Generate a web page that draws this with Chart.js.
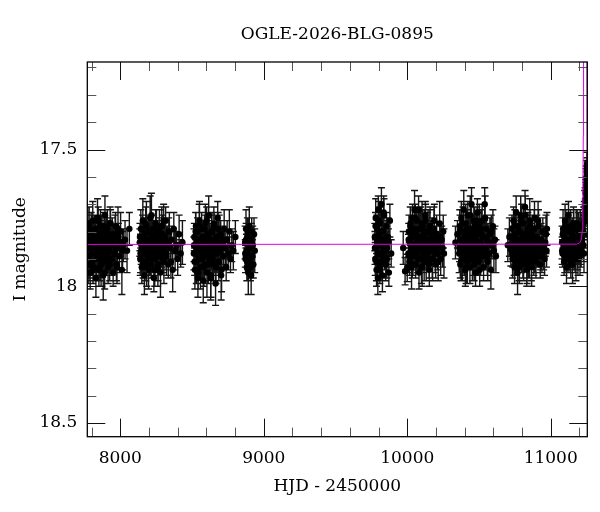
<!DOCTYPE html>
<html>
<head>
<meta charset="utf-8">
<script src="https://cdn.jsdelivr.net/npm/chart.js@4.4.1/dist/chart.umd.min.js"></script>
<style>
    html, body { margin: 0; padding: 0; background: #fff; }
    #wrap { width: 600px; height: 512px; }
</style>
</head>
<body>
<div id="wrap"><canvas id="chart" width="600" height="512"></canvas></div>
<script>
"use strict";

// tick positions
const xMajor = [8000, 9000, 10000, 11000];
const xMinor = [7800, 8200, 8400, 8600, 8800, 9200, 9400, 9600, 9800, 10200, 10400, 10600, 10800, 11200];
const yMajor = [17.5, 18, 18.5];
const yMinor = [17.2, 17.3, 17.4, 17.6, 17.7, 17.8, 17.9, 18.1, 18.2, 18.3, 18.4];

// 2017 season
const hjd17 = [7771, 7774, 7776, 7779, 7783, 7786, 7790, 7793, 7797, 7801,
    7804, 7808, 7812, 7815, 7819, 7822, 7826, 7830, 7833, 7837,
    7841, 7844, 7848, 7851, 7855, 7859, 7862, 7866, 7870, 7873,
    7877, 7881, 7885, 7889, 7893, 7897, 7902, 7906, 7910, 7915,
    7919, 7924, 7929, 7934, 7939, 7944, 7950, 7955, 7961, 7967,
    7973, 7980, 7987, 7994, 8002, 8011, 8021, 8033, 8047, 8063,
    7772, 7778, 7781, 7788, 7795, 7799, 7806, 7810, 7817, 7824,
    7828, 7835, 7839, 7846, 7853, 7857, 7864, 7868, 7875, 7879,
    7883, 7887, 7891, 7899, 7904, 7912, 7917, 7921, 7926, 7932,
    7937, 7942, 7947, 7958, 7964, 7970, 7977, 7984, 7998, 8016];
const mag17 = [17.86, 17.81, 17.92, 17.84, 17.77, 17.89, 17.95, 17.83, 17.80, 17.87,
    17.91, 17.76, 17.85, 17.93, 17.82, 17.88, 17.79, 17.97, 17.84, 17.90,
    17.75, 17.86, 17.83, 17.94, 17.81, 17.87, 17.78, 17.92, 17.85, 17.80,
    17.89, 17.96, 17.82, 17.86, 17.74, 17.91, 17.84, 17.88, 17.79, 17.93,
    17.83, 17.87, 17.77, 17.90, 17.85, 17.81, 17.95, 17.84, 17.88, 17.78,
    17.92, 17.86, 17.82, 17.89, 17.80, 17.94, 17.85, 17.83, 17.87, 17.79,
    17.89, 17.83, 17.78, 17.92, 17.85, 17.80, 17.87, 17.94, 17.82, 17.86,
    17.79, 17.90, 17.84, 17.76, 17.88, 17.93, 17.81, 17.85, 17.91, 17.83,
    17.87, 17.78, 17.95, 17.84, 17.80, 17.89, 17.86, 17.82, 17.92, 17.77,
    17.85, 17.90, 17.83, 17.88, 17.81, 17.86, 17.93, 17.79, 17.84, 17.87];
const err17 = [0.06, 0.05, 0.07, 0.05, 0.06, 0.08, 0.06, 0.05, 0.07, 0.06,
    0.05, 0.07, 0.06, 0.05, 0.08, 0.06, 0.05, 0.07, 0.06, 0.05,
    0.07, 0.06, 0.05, 0.06, 0.07, 0.05, 0.06, 0.08, 0.05, 0.06,
    0.07, 0.09, 0.05, 0.06, 0.07, 0.05, 0.06, 0.05, 0.07, 0.06,
    0.05, 0.08, 0.06, 0.05, 0.07, 0.06, 0.05, 0.06, 0.07, 0.05,
    0.06, 0.08, 0.05, 0.06, 0.07, 0.09, 0.06, 0.07, 0.08, 0.06,
    0.06, 0.05, 0.07, 0.06, 0.05, 0.06, 0.07, 0.05, 0.06, 0.08,
    0.05, 0.06, 0.07, 0.05, 0.06, 0.05, 0.07, 0.06, 0.05, 0.06,
    0.07, 0.05, 0.06, 0.08, 0.05, 0.06, 0.07, 0.05, 0.06, 0.05,
    0.07, 0.06, 0.05, 0.06, 0.07, 0.05, 0.06, 0.08, 0.05, 0.07];

// 2018 season
const hjd18 = [8136, 8139, 8143, 8146, 8150, 8153, 8157, 8161, 8164, 8168,
    8171, 8175, 8179, 8182, 8186, 8190, 8193, 8197, 8201, 8204,
    8208, 8212, 8215, 8219, 8223, 8227, 8230, 8234, 8238, 8242,
    8246, 8250, 8254, 8258, 8262, 8266, 8271, 8275, 8280, 8284,
    8289, 8294, 8299, 8304, 8310, 8316, 8322, 8328, 8335, 8342,
    8349, 8357, 8365, 8373, 8382, 8391, 8400, 8410, 8421, 8433,
    8137, 8141, 8148, 8155, 8159, 8166, 8173, 8177, 8184, 8188,
    8195, 8199, 8206, 8210, 8217, 8221, 8225, 8232, 8236, 8240,
    8244, 8248, 8252, 8256, 8260, 8264, 8268, 8273, 8278, 8282,
    8287, 8292, 8297, 8302, 8307, 8313, 8319, 8325, 8338, 8353];
const mag18 = [17.84, 17.90, 17.79, 17.87, 17.93, 17.82, 17.76, 17.88, 17.85, 17.96,
    17.81, 17.86, 17.91, 17.78, 17.84, 17.89, 17.83, 17.94, 17.80, 17.87,
    17.75, 17.85, 17.92, 17.82, 17.88, 17.79, 17.86, 17.97, 17.83, 17.90,
    17.77, 17.84, 17.89, 17.81, 17.93, 17.86, 17.80, 17.87, 17.95, 17.83,
    17.78, 17.88, 17.85, 17.91, 17.82, 17.76, 17.89, 17.84, 17.92, 17.80,
    17.86, 17.83, 17.94, 17.79, 17.87, 17.85, 17.90, 17.81, 17.88, 17.84,
    17.82, 17.88, 17.85, 17.79, 17.91, 17.84, 17.87, 17.77, 17.93, 17.83,
    17.86, 17.80, 17.89, 17.85, 17.74, 17.90, 17.82, 17.87, 17.84, 17.94,
    17.81, 17.86, 17.78, 17.88, 17.85, 17.92, 17.83, 17.79, 17.89, 17.84,
    17.87, 17.81, 17.90, 17.76, 17.86, 17.83, 17.88, 17.85, 17.80, 17.91];
const err18 = [0.05, 0.06, 0.07, 0.05, 0.06, 0.05, 0.08, 0.06, 0.05, 0.07,
    0.06, 0.05, 0.07, 0.09, 0.05, 0.06, 0.05, 0.07, 0.06, 0.05,
    0.08, 0.06, 0.05, 0.06, 0.07, 0.05, 0.06, 0.05, 0.07, 0.06,
    0.05, 0.08, 0.06, 0.05, 0.07, 0.06, 0.05, 0.06, 0.09, 0.05,
    0.07, 0.06, 0.05, 0.08, 0.06, 0.05, 0.07, 0.06, 0.05, 0.07,
    0.06, 0.05, 0.08, 0.06, 0.07, 0.05, 0.06, 0.07, 0.05, 0.08,
    0.05, 0.07, 0.06, 0.05, 0.06, 0.08, 0.05, 0.06, 0.07, 0.05,
    0.06, 0.05, 0.07, 0.06, 0.08, 0.05, 0.06, 0.07, 0.05, 0.06,
    0.05, 0.07, 0.06, 0.05, 0.08, 0.06, 0.05, 0.07, 0.06, 0.05,
    0.06, 0.07, 0.05, 0.06, 0.05, 0.08, 0.06, 0.07, 0.05, 0.06];

// 2019 season
const hjd19 = [8513, 8516, 8520, 8523, 8527, 8530, 8534, 8538, 8541, 8545,
    8548, 8552, 8556, 8559, 8563, 8567, 8570, 8574, 8578, 8581,
    8585, 8589, 8593, 8596, 8600, 8604, 8608, 8612, 8616, 8620,
    8624, 8628, 8632, 8637, 8641, 8645, 8650, 8654, 8659, 8664,
    8669, 8674, 8679, 8684, 8689, 8695, 8700, 8706, 8712, 8718,
    8724, 8731, 8738, 8745, 8752, 8760, 8768, 8777, 8788, 8802,
    8514, 8518, 8525, 8532, 8536, 8543, 8550, 8554, 8561, 8565,
    8572, 8576, 8583, 8587, 8591, 8598, 8602, 8606, 8610, 8614,
    8618, 8622, 8626, 8630, 8635, 8639, 8643, 8648, 8652, 8657,
    8662, 8667, 8672, 8677, 8682, 8687, 8692, 8698, 8703, 8715];
const mag19 = [17.88, 17.82, 17.94, 17.85, 17.78, 17.91, 17.86, 17.80, 17.97, 17.84,
    17.89, 17.76, 17.87, 17.93, 17.83, 17.79, 17.90, 17.85, 17.98, 17.82,
    17.86, 17.92, 17.77, 17.88, 17.84, 17.95, 17.81, 17.87, 17.74, 17.90,
    17.85, 17.83, 17.96, 17.80, 17.89, 17.86, 17.92, 17.78, 17.84, 17.99,
    17.82, 17.88, 17.75, 17.91, 17.85, 17.87, 17.81, 17.94, 17.84, 17.89,
    17.79, 17.86, 17.93, 17.83, 17.88, 17.80, 17.90, 17.85, 17.87, 17.82,
    17.85, 17.91, 17.80, 17.87, 17.83, 17.95, 17.78, 17.88, 17.84, 17.90,
    17.82, 17.86, 17.93, 17.79, 17.87, 17.84, 17.76, 17.89, 17.85, 17.92,
    17.81, 17.88, 17.83, 17.97, 17.86, 17.80, 17.90, 17.84, 17.77, 17.88,
    17.85, 17.93, 17.82, 17.87, 17.79, 17.91, 17.84, 17.86, 17.96, 17.83];
const err19 = [0.06, 0.05, 0.07, 0.06, 0.05, 0.08, 0.06, 0.05, 0.07, 0.06,
    0.05, 0.07, 0.06, 0.08, 0.05, 0.06, 0.07, 0.05, 0.08, 0.06,
    0.05, 0.06, 0.07, 0.05, 0.06, 0.09, 0.05, 0.06, 0.07, 0.05,
    0.06, 0.05, 0.08, 0.06, 0.05, 0.07, 0.06, 0.05, 0.06, 0.08,
    0.05, 0.07, 0.06, 0.05, 0.11, 0.06, 0.05, 0.08, 0.06, 0.05,
    0.07, 0.06, 0.05, 0.07, 0.06, 0.08, 0.05, 0.06, 0.07, 0.06,
    0.06, 0.05, 0.07, 0.06, 0.05, 0.06, 0.08, 0.05, 0.06, 0.07,
    0.05, 0.06, 0.07, 0.05, 0.06, 0.08, 0.05, 0.06, 0.05, 0.07,
    0.06, 0.05, 0.06, 0.08, 0.05, 0.07, 0.06, 0.05, 0.06, 0.07,
    0.05, 0.06, 0.08, 0.05, 0.06, 0.07, 0.05, 0.06, 0.09, 0.05];

// 2020 season (short)
const hjd20 = [8870, 8873, 8876, 8879, 8882, 8886, 8889, 8892, 8895, 8899,
    8902, 8905, 8909, 8912, 8916, 8919, 8923, 8927, 8932, 8937,
    8871, 8877, 8884, 8891, 8897, 8907, 8914, 8921];
const mag20 = [17.84, 17.90, 17.79, 17.87, 17.93, 17.82, 17.88, 17.95, 17.85, 17.78,
    17.91, 17.86, 17.83, 17.96, 17.80, 17.89, 17.85, 17.92, 17.81, 17.87,
    17.88, 17.83, 17.91, 17.80, 17.86, 17.93, 17.84, 17.89];
const err20 = [0.06, 0.05, 0.07, 0.06, 0.05, 0.07, 0.06, 0.08, 0.05, 0.07,
    0.06, 0.05, 0.06, 0.07, 0.05, 0.06, 0.07, 0.05, 0.06, 0.08,
    0.05, 0.06, 0.07, 0.05, 0.06, 0.05, 0.07, 0.06];

// 2022 season
const hjd22 = [9774, 9777, 9780, 9783, 9786, 9789, 9792, 9795, 9798, 9801,
    9804, 9807, 9810, 9814, 9817, 9820, 9824, 9827, 9831, 9834,
    9838, 9842, 9846, 9850, 9855, 9860, 9866, 9872, 9879, 9888,
    9775, 9779, 9785, 9791, 9797, 9803, 9809, 9816, 9822, 9829,
    9836, 9844, 9852, 9858, 9869];
const mag22 = [17.82, 17.90, 17.75, 17.86, 17.94, 17.79, 17.84, 17.97, 17.72, 17.88,
    17.81, 17.93, 17.77, 17.85, 17.91, 17.70, 17.83, 17.96, 17.80, 17.87,
    17.74, 17.89, 17.84, 17.92, 17.78, 17.86, 17.82, 17.95, 17.76, 17.88,
    17.86, 17.78, 17.91, 17.83, 17.88, 17.76, 17.94, 17.85, 17.80, 17.89,
    17.73, 17.87, 17.82, 17.90, 17.84];
const err22 = [0.05, 0.06, 0.07, 0.05, 0.06, 0.05, 0.07, 0.06, 0.05, 0.06,
    0.07, 0.05, 0.06, 0.05, 0.07, 0.06, 0.05, 0.06, 0.07, 0.05,
    0.06, 0.05, 0.07, 0.06, 0.05, 0.06, 0.07, 0.05, 0.06, 0.05,
    0.06, 0.05, 0.07, 0.05, 0.06, 0.07, 0.05, 0.06, 0.05, 0.07,
    0.06, 0.05, 0.06, 0.07, 0.05];

// 2023 season
const hjd23 = [9972, 9985, 10000, 10008, 10012, 10016, 10019, 10023, 10026, 10030,
    10033, 10037, 10040, 10044, 10047, 10051, 10054, 10058, 10061, 10065,
    10068, 10072, 10075, 10079, 10082, 10086, 10090, 10093, 10097, 10101,
    10104, 10108, 10112, 10116, 10120, 10124, 10128, 10132, 10136, 10140,
    10145, 10149, 10154, 10159, 10164, 10169, 10174, 10180, 10186, 10192,
    10198, 10205, 10212, 10219, 10226, 10233, 10240, 10246, 10251, 10256,
    10010, 10014, 10021, 10028, 10035, 10042, 10049, 10056, 10063, 10070,
    10077, 10084, 10088, 10095, 10099, 10103, 10106, 10110, 10114, 10118,
    10122, 10126, 10130, 10134, 10138, 10142, 10147, 10152, 10157, 10162,
    10167, 10172, 10177, 10183, 10189, 10195, 10202, 10209, 10216, 10230];
const mag23 = [17.86, 17.945, 17.933, 17.88, 17.80, 17.91, 17.84, 17.77, 17.87, 17.93,
    17.82, 17.75, 17.89, 17.85, 17.79, 17.72, 17.86, 17.92, 17.81, 17.84,
    17.76, 17.88, 17.83, 17.72, 17.95, 17.85, 17.90, 17.79, 17.87, 17.82,
    17.93, 17.78, 17.84, 17.89, 17.81, 17.86, 17.76, 17.91, 17.83, 17.88,
    17.80, 17.85, 17.94, 17.78, 17.87, 17.82, 17.90, 17.84, 17.79, 17.86,
    17.92, 17.81, 17.88, 17.85, 17.77, 17.90, 17.83, 17.86, 17.80, 17.88,
    17.83, 17.89, 17.78, 17.86, 17.92, 17.81, 17.85, 17.75, 17.88, 17.84,
    17.90, 17.79, 17.86, 17.82, 17.93, 17.77, 17.87, 17.84, 17.80, 17.91,
    17.85, 17.74, 17.88, 17.83, 17.89, 17.80, 17.86, 17.92, 17.78, 17.84,
    17.87, 17.81, 17.90, 17.85, 17.76, 17.88, 17.83, 17.86, 17.91, 17.82];
const err23 = [0.06, 0.05, 0.05, 0.07, 0.06, 0.05, 0.07, 0.06, 0.05, 0.08,
    0.06, 0.05, 0.07, 0.06, 0.05, 0.07, 0.06, 0.05, 0.08, 0.06,
    0.05, 0.07, 0.06, 0.05, 0.06, 0.07, 0.05, 0.08, 0.06, 0.05,
    0.07, 0.06, 0.05, 0.06, 0.09, 0.05, 0.06, 0.07, 0.05, 0.06,
    0.08, 0.05, 0.06, 0.07, 0.05, 0.06, 0.07, 0.05, 0.08, 0.06,
    0.05, 0.07, 0.06, 0.05, 0.08, 0.06, 0.05, 0.07, 0.06, 0.09,
    0.06, 0.05, 0.07, 0.06, 0.05, 0.06, 0.08, 0.05, 0.06, 0.07,
    0.05, 0.06, 0.07, 0.05, 0.06, 0.08, 0.05, 0.06, 0.05, 0.07,
    0.06, 0.05, 0.06, 0.08, 0.05, 0.07, 0.06, 0.05, 0.06, 0.07,
    0.05, 0.06, 0.08, 0.05, 0.06, 0.07, 0.05, 0.06, 0.07, 0.05];

// 2024 season
const hjd24 = [10336, 10350, 10362, 10366, 10370, 10373, 10377, 10380, 10384, 10387,
    10391, 10394, 10398, 10401, 10405, 10408, 10412, 10415, 10419, 10422,
    10426, 10430, 10433, 10437, 10441, 10444, 10448, 10452, 10456, 10460,
    10464, 10468, 10472, 10476, 10480, 10484, 10489, 10493, 10498, 10502,
    10507, 10512, 10517, 10522, 10527, 10532, 10536, 10540, 10546, 10552,
    10558, 10564, 10570, 10576, 10583, 10590, 10597, 10604, 10611, 10618,
    10364, 10368, 10375, 10382, 10389, 10396, 10403, 10410, 10417, 10424,
    10428, 10435, 10439, 10446, 10450, 10454, 10458, 10462, 10466, 10470,
    10474, 10478, 10482, 10486, 10491, 10495, 10500, 10505, 10510, 10514,
    10519, 10524, 10529, 10534, 10543, 10549, 10555, 10561, 10573, 10586];
const mag24 = [17.84, 17.81, 17.88, 17.78, 17.92, 17.83, 17.75, 17.87, 17.90, 17.80,
    17.85, 17.72, 17.89, 17.82, 17.94, 17.77, 17.86, 17.83, 17.91, 17.74,
    17.88, 17.81, 17.85, 17.93, 17.79, 17.84, 17.70, 17.87, 17.82, 17.90,
    17.76, 17.86, 17.83, 17.95, 17.80, 17.88, 17.73, 17.85, 17.91, 17.78,
    17.84, 17.89, 17.81, 17.76, 17.87, 17.93, 17.82, 17.70, 17.86, 17.79,
    17.90, 17.84, 17.88, 17.81, 17.94, 17.85, 17.78, 17.87, 17.83, 17.89,
    17.86, 17.80, 17.91, 17.83, 17.77, 17.88, 17.85, 17.93, 17.79, 17.86,
    17.82, 17.89, 17.74, 17.87, 17.84, 17.90, 17.81, 17.85, 17.92, 17.78,
    17.88, 17.83, 17.86, 17.76, 17.90, 17.84, 17.81, 17.94, 17.87, 17.79,
    17.85, 17.89, 17.82, 17.86, 17.75, 17.88, 17.83, 17.91, 17.84, 17.80];
const err24 = [0.06, 0.05, 0.07, 0.06, 0.05, 0.07, 0.06, 0.05, 0.08, 0.06,
    0.05, 0.07, 0.06, 0.05, 0.06, 0.07, 0.05, 0.06, 0.08, 0.05,
    0.06, 0.07, 0.05, 0.06, 0.05, 0.07, 0.06, 0.05, 0.08, 0.06,
    0.05, 0.07, 0.06, 0.05, 0.06, 0.07, 0.05, 0.06, 0.05, 0.08,
    0.06, 0.07, 0.05, 0.06, 0.07, 0.05, 0.06, 0.06, 0.08, 0.05,
    0.06, 0.07, 0.05, 0.06, 0.07, 0.05, 0.06, 0.08, 0.05, 0.06,
    0.05, 0.06, 0.07, 0.05, 0.06, 0.08, 0.05, 0.06, 0.07, 0.05,
    0.06, 0.05, 0.07, 0.06, 0.05, 0.08, 0.06, 0.05, 0.06, 0.07,
    0.05, 0.06, 0.07, 0.05, 0.06, 0.05, 0.08, 0.06, 0.05, 0.07,
    0.06, 0.05, 0.06, 0.07, 0.08, 0.05, 0.06, 0.07, 0.05, 0.06];

// 2025 season
const hjd25 = [10701, 10712, 10722, 10730, 10734, 10738, 10741, 10745, 10748, 10752,
    10755, 10759, 10762, 10766, 10769, 10773, 10776, 10780, 10784, 10787,
    10791, 10795, 10798, 10802, 10806, 10810, 10813, 10817, 10821, 10825,
    10829, 10833, 10837, 10841, 10845, 10849, 10854, 10858, 10863, 10867,
    10872, 10877, 10882, 10887, 10892, 10897, 10903, 10909, 10915, 10921,
    10927, 10933, 10939, 10945, 10951, 10957, 10962, 10967, 10971, 10974,
    10732, 10736, 10743, 10750, 10757, 10764, 10771, 10778, 10782, 10789,
    10793, 10797, 10800, 10804, 10808, 10811, 10815, 10819, 10823, 10827,
    10831, 10835, 10839, 10843, 10847, 10851, 10856, 10860, 10865, 10870,
    10875, 10880, 10885, 10890, 10895, 10900, 10906, 10912, 10918, 10930];
const mag25 = [17.85, 17.82, 17.866, 17.79, 17.90, 17.84, 17.76, 17.88, 17.93, 17.81,
    17.86, 17.73, 17.89, 17.83, 17.95, 17.78, 17.85, 17.91, 17.80, 17.87,
    17.74, 17.84, 17.89, 17.82, 17.92, 17.77, 17.86, 17.83, 17.71, 17.88,
    17.81, 17.94, 17.85, 17.79, 17.90, 17.84, 17.76, 17.87, 17.82, 17.93,
    17.80, 17.86, 17.89, 17.75, 17.84, 17.91, 17.82, 17.87, 17.78, 17.85,
    17.92, 17.83, 17.88, 17.80, 17.86, 17.90, 17.84, 17.81, 17.87, 17.79,
    17.82, 17.88, 17.85, 17.78, 17.91, 17.84, 17.87, 17.80, 17.93, 17.83,
    17.86, 17.76, 17.89, 17.85, 17.81, 17.90, 17.84, 17.87, 17.74, 17.88,
    17.83, 17.92, 17.80, 17.86, 17.84, 17.89, 17.78, 17.85, 17.91, 17.82,
    17.87, 17.84, 17.79, 17.90, 17.86, 17.83, 17.88, 17.76, 17.85, 17.89];
const err25 = [0.06, 0.07, 0.06, 0.05, 0.07, 0.06, 0.05, 0.08, 0.06, 0.05,
    0.07, 0.06, 0.05, 0.06, 0.08, 0.05, 0.06, 0.07, 0.05, 0.06,
    0.07, 0.05, 0.06, 0.08, 0.05, 0.06, 0.07, 0.05, 0.06, 0.05,
    0.07, 0.06, 0.05, 0.06, 0.07, 0.05, 0.08, 0.06, 0.05, 0.07,
    0.06, 0.05, 0.07, 0.06, 0.05, 0.06, 0.08, 0.05, 0.06, 0.07,
    0.05, 0.06, 0.07, 0.05, 0.08, 0.06, 0.05, 0.07, 0.06, 0.06,
    0.06, 0.05, 0.07, 0.06, 0.05, 0.06, 0.08, 0.05, 0.06, 0.07,
    0.05, 0.06, 0.05, 0.07, 0.06, 0.08, 0.05, 0.06, 0.07, 0.05,
    0.06, 0.07, 0.05, 0.06, 0.05, 0.08, 0.06, 0.05, 0.07, 0.06,
    0.05, 0.06, 0.07, 0.05, 0.06, 0.08, 0.05, 0.07, 0.06, 0.05];

// 2026 season, brightening at the end
const hjd26 = [11079, 11082, 11086, 11089, 11093, 11096, 11100, 11103, 11107, 11110,
    11114, 11117, 11121, 11124, 11128, 11131, 11135, 11138, 11142, 11145,
    11149, 11152, 11156, 11159, 11163, 11167, 11170, 11174, 11178, 11182,
    11186, 11190, 11194, 11198, 11202, 11206, 11210, 11214, 11218, 11222,
    11226, 11230, 11234, 11237, 11240, 11243, 11246, 11248, 11250, 11252, 11254,
    11080, 11084, 11091, 11098, 11105, 11112, 11119, 11126, 11133, 11140,
    11147, 11154, 11161, 11165, 11172, 11176, 11180, 11184, 11188, 11192,
    11196, 11200, 11204, 11208, 11212,
    11228, 11232, 11235, 11239, 11241, 11244, 11247, 11249, 11251, 11253];
const mag26 = [17.84, 17.88, 17.79, 17.86, 17.91, 17.82, 17.76, 17.87, 17.84, 17.93,
    17.80, 17.85, 17.89, 17.74, 17.86, 17.83, 17.90, 17.78, 17.85, 17.88,
    17.81, 17.92, 17.84, 17.77, 17.87, 17.82, 17.89, 17.85, 17.79, 17.86,
    17.83, 17.90, 17.80, 17.84, 17.87, 17.78, 17.85, 17.81, 17.83, 17.79,
    17.80, 17.77, 17.74, 17.71, 17.69, 17.66, 17.63, 17.61, 17.58, 17.56, 17.55,
    17.87, 17.81, 17.85, 17.90, 17.78, 17.86, 17.83, 17.88, 17.80, 17.92,
    17.84, 17.87, 17.79, 17.86, 17.82, 17.90, 17.85, 17.77, 17.88, 17.83,
    17.86, 17.81, 17.89, 17.84, 17.87,
    17.85, 17.88, 17.81, 17.76, 17.73, 17.68, 17.65, 17.60, 17.62, 17.57];
const err26 = [0.06, 0.05, 0.07, 0.06, 0.05, 0.07, 0.06, 0.05, 0.08, 0.06,
    0.05, 0.07, 0.06, 0.05, 0.06, 0.07, 0.05, 0.06, 0.08, 0.05,
    0.06, 0.07, 0.05, 0.06, 0.07, 0.05, 0.06, 0.05, 0.07, 0.06,
    0.05, 0.06, 0.07, 0.08, 0.05, 0.06, 0.07, 0.06, 0.05, 0.06,
    0.05, 0.06, 0.05, 0.06, 0.05, 0.05, 0.06, 0.05, 0.04, 0.05, 0.04,
    0.05, 0.06, 0.07, 0.05, 0.06, 0.08, 0.05, 0.06, 0.07, 0.05,
    0.06, 0.05, 0.07, 0.06, 0.05, 0.08, 0.06, 0.05, 0.06, 0.07,
    0.05, 0.06, 0.07, 0.05, 0.06,
    0.06, 0.07, 0.05, 0.06, 0.05, 0.06, 0.05, 0.04, 0.05, 0.04];

// model light curve
const modelHjd = [7770, 11180, 11200, 11210, 11215, 11220, 11223, 11225, 11227, 11229, 11252, 11254, 11256];
const modelMag = [17.847, 17.846, 17.842, 17.834, 17.822, 17.795, 17.745, 17.66, 17.45, 17.05, 17.05, 17.35, 17.6];

const seasons = [
    [hjd17, mag17, err17], [hjd18, mag18, err18], [hjd19, mag19, err19],
    [hjd20, mag20, err20], [hjd22, mag22, err22], [hjd23, mag23, err23],
    [hjd24, mag24, err24], [hjd25, mag25, err25], [hjd26, mag26, err26]
];

const serif = "'DejaVu Serif', serif";
const labelFont = { family: serif, size: 17 };

const errorBars = {
    id: "errorBars",
    beforeDatasetsDraw(chart) {
        const { ctx, chartArea: area, scales: { x, y } } = chart;
        ctx.save();
        ctx.beginPath();
        ctx.rect(area.left, area.top, area.width, area.height);
        ctx.clip();
        ctx.strokeStyle = "#151515";
        ctx.lineWidth = 1.4;
        ctx.beginPath();
        chart.data.datasets.forEach((ds) => {
            if (!ds.withErrors) return;
            ds.data.forEach((p) => {
                const px = x.getPixelForValue(p.x);
                const up = y.getPixelForValue(p.y - p.err);
                const down = y.getPixelForValue(p.y + p.err);
                ctx.moveTo(px, up);
                ctx.lineTo(px, down);
                ctx.moveTo(px - 3.5, up);
                ctx.lineTo(px + 3.5, up);
                ctx.moveTo(px - 3.5, down);
                ctx.lineTo(px + 3.5, down);
            });
        });
        ctx.stroke();
        ctx.restore();
    }
};

const frame = {
    id: "frame",
    afterDatasetsDraw(chart) {
        const { ctx, chartArea: a, scales: { x, y } } = chart;
        ctx.save();
        ctx.lineWidth = 1;
        ctx.strokeStyle = "#555";
        ctx.beginPath();
        xMinor.forEach((v) => {
            const px = Math.round(x.getPixelForValue(v)) + 0.5;
            ctx.moveTo(px, a.bottom);
            ctx.lineTo(px, a.bottom - 9);
            ctx.moveTo(px, a.top);
            ctx.lineTo(px, a.top + 9);
        });
        yMinor.forEach((v) => {
            const py = Math.round(y.getPixelForValue(v)) + 0.5;
            ctx.moveTo(a.left, py);
            ctx.lineTo(a.left + 9, py);
            ctx.moveTo(a.right, py);
            ctx.lineTo(a.right - 9, py);
        });
        ctx.stroke();

        ctx.strokeStyle = "#111";
        ctx.beginPath();
        xMajor.forEach((v) => {
            const px = Math.round(x.getPixelForValue(v)) + 0.5;
            ctx.moveTo(px, a.bottom);
            ctx.lineTo(px, a.bottom - 18);
            ctx.moveTo(px, a.top);
            ctx.lineTo(px, a.top + 18);
        });
        yMajor.forEach((v) => {
            const py = Math.round(y.getPixelForValue(v)) + 0.5;
            ctx.moveTo(a.left, py);
            ctx.lineTo(a.left + 18, py);
            ctx.moveTo(a.right, py);
            ctx.lineTo(a.right - 18, py);
        });
        ctx.stroke();

        ctx.lineWidth = 1.3;
        ctx.strokeStyle = "#000";
        ctx.strokeRect(a.left, a.top, a.width, a.height);
        ctx.restore();
    }
};

const datasets = [
    {
        type: "line",
        data: modelHjd.map((t, i) => ({ x: t, y: modelMag[i] })),
        borderColor: "#e000e0",
        borderWidth: 1,
        pointRadius: 0,
        fill: false,
        tension: 0
    }
];

seasons.forEach(([hjd, mag, err]) => {
    datasets.push({
        withErrors: true,
        data: hjd.map((t, i) => ({ x: t, y: mag[i], err: err[i] ?? 0.06 })),
        backgroundColor: "#000",
        borderWidth: 0,
        pointRadius: 3.2
    });
});

const chartContext = document.getElementById("chart");

new Chart(chartContext, {
    type: "scatter",
    data: { datasets: datasets },
    options: {
        responsive: false,
        animation: false,
        events: [],
        layout: { padding: { left: 0, right: 12.7, top: 0, bottom: 0 } },
        plugins: {
            legend: { display: false },
            tooltip: { enabled: false },
            title: {
                display: true,
                fullSize: false,
                text: "OGLE-2026-BLG-0895",
                color: "#000",
                font: { family: serif, size: 17, weight: "normal" },
                padding: { top: 24, bottom: 17.6 }
            }
        },
        scales: {
            x: {
                type: "linear",
                min: 7770,
                max: 11255,
                afterBuildTicks: (s) => { s.ticks = xMajor.map((v) => ({ value: v })); },
                afterFit: (s) => { s.height = 75.3; },
                grid: { display: false, drawTicks: false },
                border: { display: false },
                ticks: {
                    font: labelFont,
                    color: "#000",
                    padding: 12,
                    maxRotation: 0,
                    autoSkip: false,
                    callback: (v) => String(v)
                },
                title: {
                    display: true,
                    text: "HJD - 2450000",
                    color: "#000",
                    font: labelFont,
                    padding: { top: 0, bottom: 15 }
                }
            },
            y: {
                type: "linear",
                reverse: true,
                min: 17.18,
                max: 18.55,
                afterBuildTicks: (s) => { s.ticks = yMajor.map((v) => ({ value: v })); },
                afterFit: (s) => { s.width = 87.3; },
                grid: { display: false, drawTicks: false },
                border: { display: false },
                ticks: {
                    font: labelFont,
                    color: "#000",
                    padding: 10,
                    autoSkip: false,
                    callback: (v) => String(v)
                },
                title: {
                    display: true,
                    text: "I magnitude",
                    color: "#000",
                    font: labelFont,
                    padding: { top: 10, bottom: 0 }
                }
            }
        }
    },
    plugins: [errorBars, frame]
});
</script>
</body>
</html>
